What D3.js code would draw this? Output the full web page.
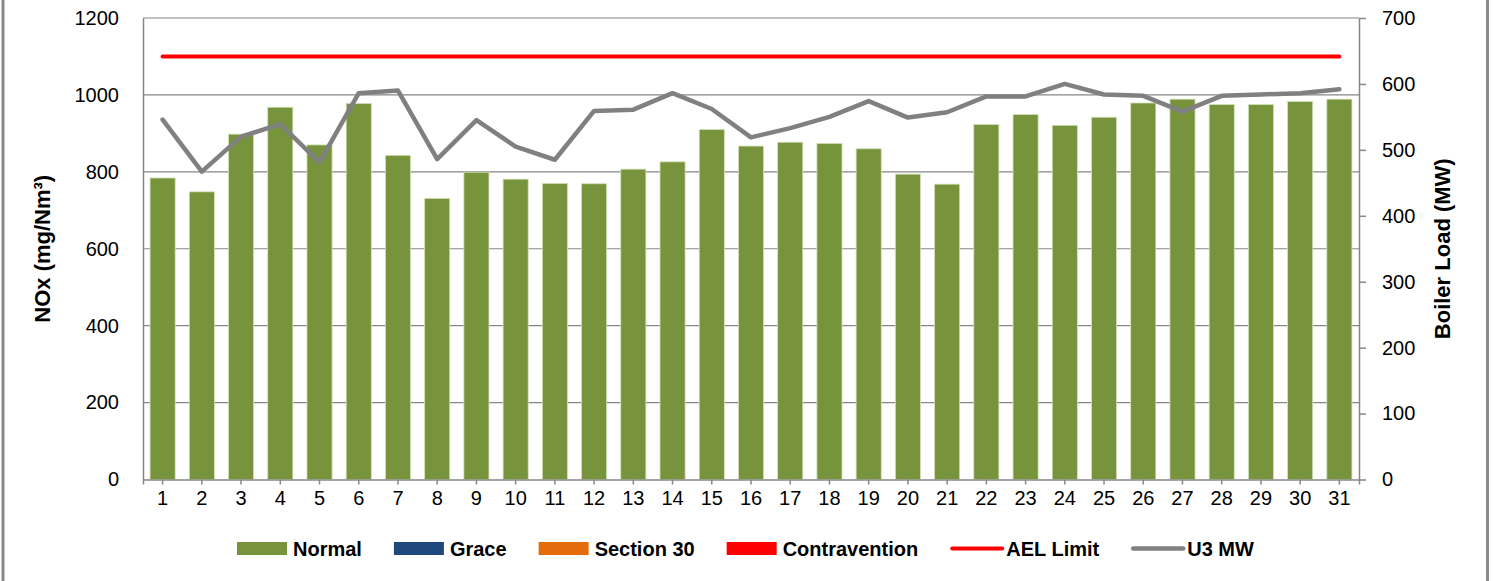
<!DOCTYPE html>
<html>
<head>
<meta charset="utf-8">
<script src="https://cdn.jsdelivr.net/npm/d3@7"></script>
<style>
  body { margin: 0; background: #fff; }
  svg { display: block; font-family: "Liberation Sans", Arial, sans-serif; }
</style>
</head>
<body>
<main></main>
<script>
// data
const days = ["1","2","3","4","5","6","7","8","9","10","11","12","13","14","15","16",
              "17","18","19","20","21","22","23","24","25","26","27","28","29","30","31"]
const normal = [784, 748, 898, 968, 870, 978, 843, 731, 799, 781, 770, 769, 807, 826, 910, 867,
                877, 874, 860, 794, 768, 923, 949, 921, 942, 979, 989, 975, 975, 983, 989]
const grace = [0,0,0,0,0,0,0,0,0,0,0,0,0,0,0,0,0,0,0,0,0,0,0,0,0,0,0,0,0,0,0]
const section30 = [0,0,0,0,0,0,0,0,0,0,0,0,0,0,0,0,0,0,0,0,0,0,0,0,0,0,0,0,0,0,0]
const contravention = [0,0,0,0,0,0,0,0,0,0,0,0,0,0,0,0,0,0,0,0,0,0,0,0,0,0,0,0,0,0,0]
const aelLimit = [1100,1100,1100,1100,1100,1100,1100,1100,1100,1100,1100,1100,1100,1100,1100,1100,
                  1100,1100,1100,1100,1100,1100,1100,1100,1100,1100,1100,1100,1100,1100,1100]
const u3mw = [546, 467, 520, 539, 481, 586, 590, 486, 545, 505, 485, 559, 561, 586, 562, 519,
              533, 550, 574, 549, 557, 581, 581, 600, 584, 582, 558, 582, 584, 586, 592]
const leftTicks = [0, 200, 400, 600, 800, 1000, 1200]
const rightTicks = [0, 100, 200, 300, 400, 500, 600, 700]

const width = 1494
const height = 581
const plot = { left: 143, right: 1359, top: 18, bottom: 479.5 }
const gridColor = "#868686"

let svg = d3.select("main")
    .append("svg")
    .attr("width", width)
    .attr("height", height)

// outer frame (top and bottom fall outside the picture)
svg.append("rect")
    .attr("x", 3).attr("y", -10)
    .attr("width", 1484.5).attr("height", height + 20)
    .attr("fill", "none")
    .attr("stroke", "#8a8a8a")
    .attr("stroke-width", 3)

let x = d3.scaleBand()
    .domain(days)
    .range([plot.left, plot.right])
    .paddingInner(0.36)
    .paddingOuter(0.18)

let yLeft = d3.scaleLinear().domain([0, 1200]).range([plot.bottom, plot.top])
let yRight = d3.scaleLinear().domain([0, 700]).range([plot.bottom, plot.top])

// gridlines
svg.append("g")
    .selectAll("line")
    .data(leftTicks.slice(1))
    .enter()
    .append("line")
    .attr("x1", plot.left).attr("x2", plot.right)
    .attr("y1", d => yLeft(d)).attr("y2", d => yLeft(d))
    .attr("stroke", gridColor)
    .attr("stroke-width", 1.2)

// stacked bars
let rows = days.map((d, i) => ({ day: d, normal: normal[i], grace: grace[i], section30: section30[i], contravention: contravention[i] }))
let keys = ["normal", "grace", "section30", "contravention"]
let barColor = d3.scaleOrdinal().domain(keys).range(["#77933C", "#1F497D", "#E46C0A", "#FF0000"])
let stacked = d3.stack().keys(keys)(rows)

svg.append("g")
    .selectAll("g")
    .data(stacked)
    .enter()
    .append("g")
    .attr("fill", d => barColor(d.key))
    .selectAll("rect")
    .data(d => d.filter(p => p[1] > p[0]))
    .enter()
    .append("rect")
    .attr("x", d => x(d.data.day))
    .attr("width", x.bandwidth())
    .attr("y", d => yLeft(d[1]))
    .attr("height", d => yLeft(d[0]) - yLeft(d[1]))
    .attr("stroke", "#d4e2b8")
    .attr("stroke-width", 0.8)

// axes
let axisFont = g => g.selectAll("text").attr("font-size", 20).attr("font-family", "Liberation Sans, Arial").attr("fill", "#000")

svg.append("g")
    .attr("transform", `translate(${plot.left},0)`)
    .call(d3.axisLeft(yLeft).tickValues(leftTicks).tickFormat(d3.format("d")).tickSize(0).tickPadding(24).tickSizeOuter(0))
    .call(axisFont)
    .call(g => g.select(".domain").attr("stroke", gridColor).attr("stroke-width", 1.5))

svg.append("g")
    .attr("transform", `translate(${plot.right},0)`)
    .call(d3.axisRight(yRight).tickValues(rightTicks).tickFormat(d3.format("d")).tickSize(7).tickPadding(16).tickSizeOuter(0))
    .call(axisFont)
    .call(g => g.select(".domain").attr("stroke", gridColor).attr("stroke-width", 1.5))
    .call(g => g.selectAll(".tick line").attr("stroke", gridColor).attr("stroke-width", 1.5))

svg.append("g")
    .attr("transform", `translate(0,${plot.bottom})`)
    .call(d3.axisBottom(x).tickSize(5).tickPadding(6).tickSizeOuter(5))
    .call(axisFont)
    .call(g => g.select(".domain").attr("stroke", gridColor).attr("stroke-width", 1.5))
    .call(g => g.selectAll(".tick line").attr("stroke", gridColor).attr("stroke-width", 1.5))

// lines
let xc = d => x(d) + x.bandwidth() / 2

svg.append("path")
    .datum(aelLimit)
    .attr("fill", "none")
    .attr("stroke", "#FF0000")
    .attr("stroke-width", 4)
    .attr("stroke-linecap", "round")
    .attr("d", d3.line().x((d, i) => xc(days[i])).y(d => yLeft(d)))

svg.append("path")
    .datum(u3mw)
    .attr("fill", "none")
    .attr("stroke", "#808080")
    .attr("stroke-width", 4.5)
    .attr("stroke-linecap", "round")
    .attr("stroke-linejoin", "round")
    .attr("d", d3.line().x((d, i) => xc(days[i])).y(d => yRight(d)))

// axis titles
svg.append("text")
    .attr("transform", `translate(50,${(plot.top + plot.bottom) / 2}) rotate(-90)`)
    .attr("text-anchor", "middle")
    .attr("font-size", 22)
    .attr("font-weight", "bold")
    .text("NOx (mg/Nm³)")

svg.append("text")
    .attr("transform", `translate(1450,${(plot.top + plot.bottom) / 2}) rotate(-90)`)
    .attr("text-anchor", "middle")
    .attr("font-size", 22)
    .attr("font-weight", "bold")
    .text("Boiler Load (MW)")

// legend
let legendItems = [
    { name: "Normal", color: "#77933C", type: "box" },
    { name: "Grace", color: "#1F497D", type: "box" },
    { name: "Section 30", color: "#E46C0A", type: "box" },
    { name: "Contravention", color: "#FF0000", type: "box" },
    { name: "AEL Limit", color: "#FF0000", type: "line" },
    { name: "U3 MW", color: "#808080", type: "line" }
]

let legend = svg.append("g").attr("id", "legend")
let ly = 548.5
let cursor = 237
legendItems.forEach(item => {
    let g = legend.append("g")
    if (item.type === "box") {
        g.append("rect")
            .attr("x", cursor).attr("y", ly - 6.5)
            .attr("width", 50).attr("height", 13)
            .attr("fill", item.color)
    } else {
        g.append("line")
            .attr("x1", cursor + 2).attr("x2", cursor + 52)
            .attr("y1", ly).attr("y2", ly)
            .attr("stroke", item.color)
            .attr("stroke-width", item.name === "U3 MW" ? 4.5 : 4)
            .attr("stroke-linecap", "round")
    }
    let t = g.append("text")
        .attr("x", cursor + 56)
        .attr("y", ly)
        .attr("dy", "0.35em")
        .attr("font-size", 20)
        .attr("font-weight", "bold")
        .text(item.name)
    cursor += 56 + t.node().getComputedTextLength() + 32
})
</script>
</body>
</html>
